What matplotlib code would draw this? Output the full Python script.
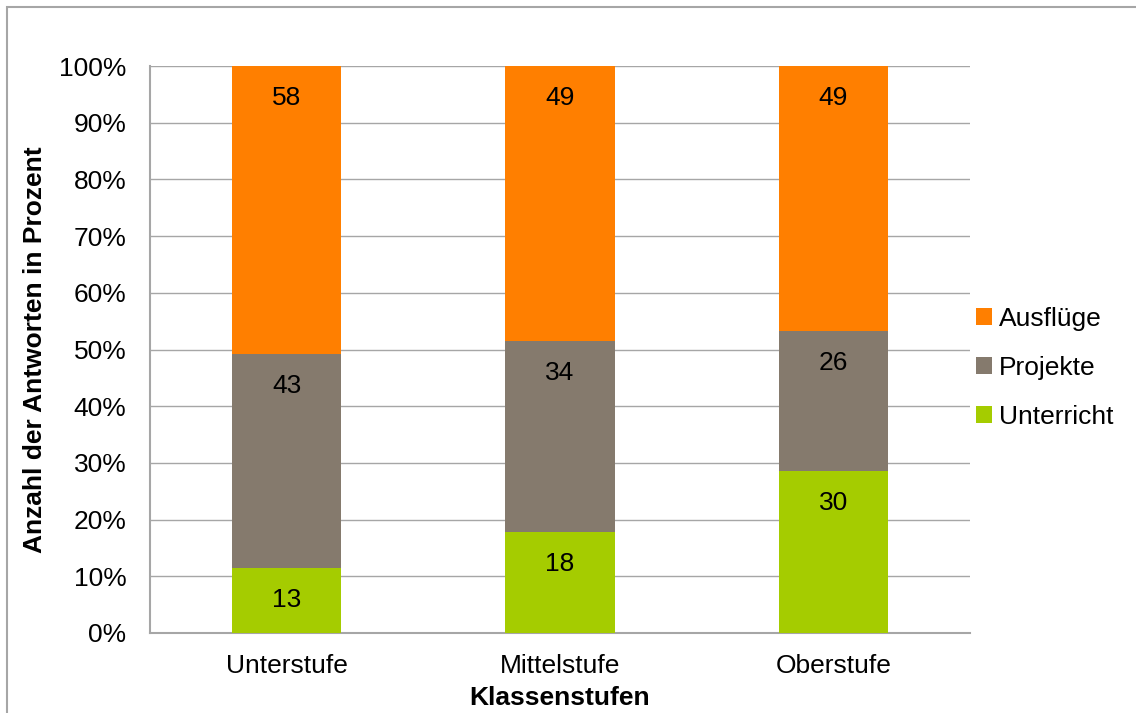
import numpy as np
import matplotlib.pyplot as plt
from matplotlib.patches import Rectangle

plt.rcParams['font.family'] = ['Liberation Sans', 'DejaVu Sans']

stufen = ["Unterstufe", "Mittelstufe", "Oberstufe"]
unterricht = [13, 18, 30]
projekte = [43, 34, 26]
ausfluege = [58, 49, 49]

series = [("Unterricht", unterricht, "#a5cc00"),
          ("Projekte", projekte, "#857a6d"),
          ("Ausflüge", ausfluege, "#ff7f00")]

totals = np.array(unterricht) + np.array(projekte) + np.array(ausfluege)
FS = 19

fig = plt.figure(figsize=(11.36, 7.13), dpi=100)
ax = fig.add_axes([150/1136, 1 - 633/713, 820/1136, 567/713])

# outer frame of the chart area
fig.patches.append(Rectangle((7/1136, -0.1), 1.2, 1 - 7/713 + 0.1,
                             transform=fig.transFigure, fill=False,
                             edgecolor="#a6a6a6", lw=1.5, zorder=0))

x = np.arange(len(stufen))
bottom = np.zeros(len(stufen))
handles = []
for name, vals, col in series:
    pct = np.array(vals) / totals * 100
    b = ax.bar(x, pct, 0.4, bottom=bottom, color=col, label=name, zorder=3)
    handles.append(b)
    # count labels sit just inside the top of each segment
    for xi, top, v in zip(x, bottom + pct, vals):
        ax.annotate(str(v), (xi, top), xytext=(0, -23),
                    textcoords="offset points", ha="center", va="center",
                    fontsize=FS, zorder=4)
    bottom += pct

ax.set_xlim(-0.5, 2.5)
ax.set_ylim(0, 100)
ax.set_yticks(np.arange(0, 101, 10))
ax.set_yticklabels([f"{t}%" for t in range(0, 101, 10)])
ax.set_xticks(x)
ax.set_xticklabels(stufen)
ax.tick_params(axis="both", length=0, labelsize=FS)
ax.tick_params(axis="x", pad=15)
ax.tick_params(axis="y", pad=17)
ax.grid(axis="y", color="#a6a6a6", lw=1, zorder=0)
for s in ["top", "right"]:
    ax.spines[s].set_visible(False)
for s in ["left", "bottom"]:
    ax.spines[s].set_color("#a6a6a6")
    ax.spines[s].set_linewidth(1.5)

ax.set_xlabel("Klassenstufen", fontsize=FS, fontweight="bold", labelpad=6)
ax.set_ylabel("Anzahl der Antworten in Prozent", fontsize=FS,
              fontweight="bold", labelpad=9)

ax.legend(handles[::-1], [s[0] for s in series][::-1], loc="center left",
          bbox_to_anchor=(0.985, 0.468), frameon=False, fontsize=FS,
          handlelength=0.6, handleheight=0.6, handletextpad=0.25,
          labelspacing=0.95, borderaxespad=0.3)

fig.savefig("out.png", dpi=100)
